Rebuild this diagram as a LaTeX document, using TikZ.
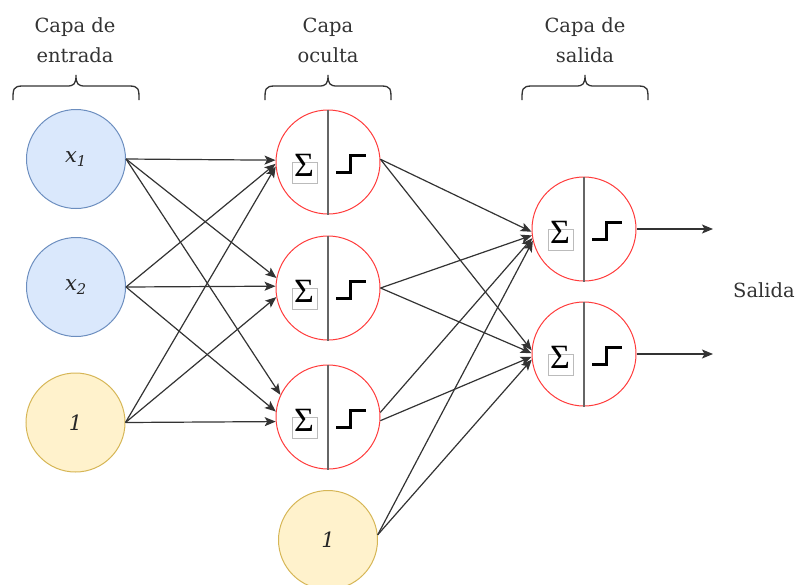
\documentclass[tikz,border=0pt]{standalone}
\usepackage{fontspec}
\setmainfont{DejaVu Serif}
\newfontfamily\sigmafont{Liberation Serif}
\usetikzlibrary{arrows.meta,calc}

\definecolor{inpfill}{HTML}{DAE8FC}
\definecolor{inpline}{HTML}{6C8EBF}
\definecolor{biasfill}{HTML}{FFF2CC}
\definecolor{biasline}{HTML}{D6B656}
\definecolor{neuronred}{HTML}{FF3B3B}
\definecolor{linkgray}{HTML}{333333}
\definecolor{dividergray}{HTML}{666666}
\definecolor{boxgray}{HTML}{BBBBBB}

% curly brace over a layer: left x, right x
\newcommand\layerbrace[2]{%
  \draw[bracestyle] (#1,100) .. controls (#1,89) and (#1,86) .. ({#1+10},86)
    -- ({(#1+#2)/2-9},86) .. controls ({(#1+#2)/2-2},86) and ({(#1+#2)/2},84) .. ({(#1+#2)/2},75)
    .. controls ({(#1+#2)/2},84) and ({(#1+#2)/2+2},86) .. ({(#1+#2)/2+9},86)
    -- ({#2-10},86) .. controls (#2,86) and (#2,89) .. (#2,100);}

\begin{document}
\begin{tikzpicture}[x=1pt,y=-1pt,
  inp/.style={circle, draw=inpline, fill=inpfill, line width=1pt, minimum size=99pt,
    inner sep=0pt, font=\fontsize{21}{21}\selectfont\itshape, text=black!85},
  bias/.style={inp, draw=biasline, fill=biasfill},
  neuron/.style={circle, draw=neuronred, line width=1pt, minimum size=104pt, inner sep=0pt},
  link/.style={draw=linkgray, line width=1.2pt, -{Stealth[length=11pt,width=9pt,inset=2.5pt]}},
  lbl/.style={align=center, font=\fontsize{19.5}{30}\selectfont, text=black!80},
  bracestyle/.style={draw=linkgray, line width=1.3pt},
  divider/.style={draw=dividergray, line width=2pt},
  sigbox/.style={draw=boxgray, line width=0.6pt},
  sigma/.style={inner sep=0pt, font=\fontsize{34}{34}\sigmafont},
  stepline/.style={draw=black, line width=3pt, miter limit=10},
]
\useasboundingbox (0,0) rectangle (799,584);

% layer titles and braces
\node[lbl, anchor=base] (tin) at (75,62) {Capa de\\entrada};
\node[lbl, anchor=base] (thid) at (328,62) {Capa\\oculta};
\node[lbl, anchor=base] (tout) at (585,62) {Capa de\\salida};
\layerbrace{13}{139}
\layerbrace{265}{391}
\layerbrace{522}{648}

% input layer
\node[inp] (x1) at (76,159) {x\textsubscript{1}};
\node[inp] (x2) at (76,287) {x\textsubscript{2}};
\node[bias] (b1) at (75.5,422.5) {1};

% hidden layer
\node[neuron] (h1) at (328,162) {};
\node[neuron] (h2) at (328,288) {};
\node[neuron] (h3) at (328,417) {};
\node[bias] (b2) at (328,540) {1};

% output layer
\node[neuron] (o1) at (584,229) {};
\node[neuron] (o2) at (584,354) {};

% summation and step symbols inside each neuron
\foreach \n in {h1,h2,h3,o1,o2} {
  \draw[divider] (\n.north) -- (\n.south);
  \draw[sigbox] ($(\n)+(-36,0)$) rectangle ($(\n)+(-11,21)$);
  \node[sigma] (\n-sig) at ($(\n)+(-24,3)$) {Σ};
  \draw[stepline] ($(\n)+(8,10)$) -- ($(\n)+(22,10)$) -- ($(\n)+(22,-7)$) -- ($(\n)+(38,-7)$);
}

% input -> hidden
\draw[link] (x1.east) -- (h1.178);
\draw[link] (x1.east) -- (h2.169);
\draw[link] (x1.east) -- (h3.155);
\draw[link] (x2.east) -- (h1.182);
\draw[link] (x2.east) -- (h2.178);
\draw[link] (x2.east) -- (h3.174);
\draw[link] (b1.east) -- (h1.185);
\draw[link] (b1.east) -- (h2.190);
\draw[link] (b1.east) -- (h3.185);

% hidden -> output
\draw[link] (h1.3) -- (o1.183);
\draw[link] (h1.3) -- (o2.176);
\draw[link] (h2.0) -- (o1.187);
\draw[link] (h2.0) -- (o2.179);
\draw[link] (h3.5) -- (o1.190);
\draw[link] (h3.-4) -- (o2.183);
\draw[link] (b2.6) -- (o1.193);
\draw[link] (b2.6) -- (o2.186);

% network output
\coordinate (out1) at (713,229);
\coordinate (out2) at (713,354);
\draw[link] (o1.east) -- (out1);
\draw[link] (o2.east) -- (out2);
\node[lbl] (salida) at (764,290) {Salida};
\end{tikzpicture}
\end{document}
